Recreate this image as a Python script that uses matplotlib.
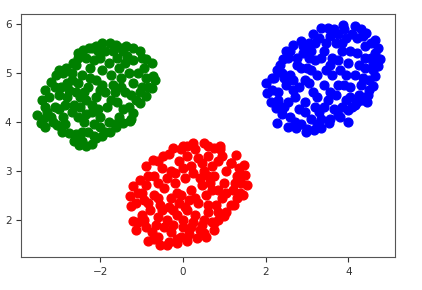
import matplotlib
matplotlib.use('Agg')
import matplotlib.pyplot as plt

# points, one list per cluster
green_x = [-3.53, -3.45, -3.33, -3.41, -3.33, -3.20, -3.08, -3.00, -2.84, -2.67,
           -2.55, -2.43, -2.27, -2.11, -1.95, -1.78, -1.62, -1.37, -1.21, -1.05,
           -0.89, -0.76, -0.72, -0.68, -0.76, -0.89, -1.05, -1.21, -1.29, -1.46,
           -1.62, -1.78, -1.95, -2.11, -2.35, -2.51, -2.63, -2.76, -2.92, -3.04,
           -3.10, -2.90, -2.80, -2.95, -2.70, -2.60, -2.50, -2.70, -2.40, -2.30,
           -2.20, -2.10, -2.30, -2.45, -2.25, -2.00, -1.80, -1.60, -1.40, -1.50,
           -1.70, -1.90, -1.85, -1.60, -1.40, -1.20, -1.10, -1.00, -1.30, -1.55,
           -1.80, -2.00, -2.60, -2.85, -3.20, -3.25, -2.90, -2.60, -2.10, -2.00,
           -1.70, -0.90, -1.15, -2.35, -3.00, -2.55, -2.05, -1.35, -0.95, -1.25,
           -2.15, -2.45, -3.35,
           -3.15, -3.00, -2.85, -2.75, -2.55, -2.40, -2.20, -2.05, -1.95, -1.75,
           -1.55, -1.30, -1.20, -1.45, -1.90, -2.15, -2.35, -2.70, -2.80, -3.10,
           -2.55, -2.35, -2.15, -1.90, -1.65, -1.45, -1.25, -1.05, -0.85, -1.65,
           -1.75, -2.00, -2.25, -2.50, -2.65, -2.95, -2.45, -2.20, -1.50, -1.95,
           -3.30, -3.40, -2.20, -1.50, -1.00]
green_y = [4.14, 3.97, 3.90, 4.45, 4.65, 4.82, 4.96, 5.06, 5.10, 5.20,
           5.40, 5.47, 5.50, 5.54, 5.61, 5.61, 5.57, 5.54, 5.50, 5.44,
           5.27, 5.20, 4.93, 4.86, 4.69, 4.52, 4.38, 4.18, 4.01, 3.97,
           3.90, 3.80, 3.70, 3.67, 3.50, 3.53, 3.60, 3.77, 3.80, 3.94,
           4.30, 4.10, 4.50, 4.70, 4.85, 4.60, 4.30, 4.20, 4.00, 3.80,
           4.20, 4.50, 4.70, 4.95, 5.10, 5.30, 5.20, 5.30, 5.20, 4.90,
           4.75, 4.60, 4.30, 4.40, 4.60, 4.80, 5.00, 4.70, 4.30, 4.10,
           4.00, 3.90, 3.75, 3.95, 4.10, 4.50, 5.00, 5.15, 4.85, 4.10,
           5.45, 4.90, 4.45, 4.45, 4.55, 5.30, 5.45, 5.35, 5.10, 4.05,
           3.70, 3.60, 4.30,
           4.00, 4.25, 4.35, 4.65, 4.80, 4.60, 4.35, 4.25, 4.75, 4.95,
           5.10, 5.00, 5.25, 5.45, 5.45, 5.25, 5.30, 5.00, 4.80, 4.70,
           4.10, 4.15, 3.95, 3.80, 3.95, 4.25, 4.55, 4.60, 4.70, 4.60,
           4.45, 4.65, 4.90, 4.50, 4.35, 3.90, 3.80, 3.55, 4.70, 5.05,
           4.20, 4.05, 5.50, 5.50, 5.30]

red_x = [-1.29, -1.25, -1.21, -1.13, -0.85, -0.56, -0.40, -0.15, 0.09, 0.33,
         0.50, 0.74, 0.98, 1.23, 1.39, 1.55, 1.51, 1.47, 1.27, 1.15,
         0.90, 0.74, 0.50, 0.25, 0.01, -0.24, -0.48, -0.72, -0.89, -1.05,
         -1.21, -0.90, -0.70, -0.50, -0.30, -0.10, 0.10, 0.35, 0.60, 0.85,
         1.05, 1.30, 1.20, 1.00, 0.75, 0.50, 0.25, 0.05, -0.20, -0.45,
         -0.70, -0.95, -1.00, -0.80, -0.55, -0.30, -0.05, 0.20, 0.45, 0.70,
         0.95, 1.15, 0.85, 0.60, 0.35, 0.10, -0.15, -0.40, -0.65, -0.90,
         -0.60, -0.30, 0.00, 0.25, 0.50, 0.70, 0.40, 0.15, -0.15, 0.30,
         -0.60, 0.65, -0.25, 0.90, 1.40, -1.10, 0.05, 0.55, -0.05,
         -1.15, -1.00, -0.85, -0.60, -0.40, -0.20, 0.00, 0.20, 0.45, 0.70,
         0.95, 1.15, 1.35, 1.45, 1.30, 1.05, 0.85, 0.55, 0.30, 0.15,
         -0.10, -0.35, -0.60, -0.85, -1.10, -0.95, -0.75, -0.45, -0.25, 0.00,
         0.30, 0.60, 0.80, 1.05, 0.75, 0.45, 0.20, -0.05, -0.35, -0.70,
         0.10, 0.60, -0.35, -0.60, 0.85, 1.25, -0.15, 0.40, 0.60, -0.50]
red_y = [2.48, 2.27, 1.97, 1.80, 1.56, 1.49, 1.49, 1.52, 1.56, 1.63,
         1.73, 1.93, 2.07, 2.31, 2.54, 2.71, 2.92, 3.12, 3.33, 3.16,
         3.50, 3.46, 3.56, 3.56, 3.50, 3.46, 3.29, 3.22, 3.09, 2.82,
         2.69, 2.70, 2.90, 3.05, 3.00, 3.20, 3.30, 3.25, 3.30, 3.20,
         3.00, 2.90, 2.60, 2.75, 2.90, 3.00, 2.95, 2.85, 2.75, 2.65,
         2.50, 2.40, 2.10, 2.20, 2.30, 2.45, 2.50, 2.60, 2.70, 2.60,
         2.45, 2.30, 2.15, 2.30, 2.35, 2.20, 2.10, 2.00, 1.90, 1.85,
         1.65, 1.75, 1.85, 1.95, 2.00, 1.95, 1.80, 1.70, 1.60, 3.45,
         2.05, 2.75, 2.20, 3.45, 2.75, 2.55, 2.25, 1.65, 3.45,
         2.35, 2.55, 2.90, 2.75, 2.85, 2.95, 3.05, 3.10, 3.15, 3.10,
         3.30, 3.15, 3.05, 2.50, 2.45, 2.55, 2.60, 2.50, 2.45, 2.40,
         2.35, 2.25, 2.45, 2.35, 1.95, 2.00, 1.75, 1.85, 1.90, 2.00,
         2.10, 2.15, 2.30, 2.15, 1.80, 1.90, 1.85, 1.65, 1.55, 1.60,
         3.50, 3.50, 3.35, 3.20, 2.00, 2.75, 2.55, 2.85, 2.90, 2.20]

blue_x = [2.00, 2.04, 2.12, 2.24, 2.28, 2.53, 2.73, 2.98, 3.18, 3.34,
          3.54, 3.74, 3.99, 4.15, 4.32, 4.48, 4.60, 4.64, 4.72, 4.76,
          4.72, 4.64, 4.44, 4.15, 3.87, 3.50, 3.34, 3.14, 2.85, 2.65,
          2.49, 2.41, 2.28, 2.16, 2.30, 2.50, 2.45, 2.60, 2.80, 2.70,
          2.60, 2.75, 2.55, 2.90, 3.05, 3.30, 3.55, 3.75, 3.95, 4.20,
          4.40, 4.55, 4.40, 4.50, 4.30, 4.15, 4.00, 4.20, 3.85, 3.60,
          3.40, 3.20, 3.00, 2.95, 3.15, 2.95, 3.10, 3.30, 3.50, 3.40,
          3.60, 3.80, 3.90, 3.70, 3.85, 4.05, 4.25, 3.55, 3.25, 2.85,
          3.45, 3.25, 2.80, 4.60, 4.00, 3.70, 2.40, 4.30, 3.10, 4.45,
          2.15, 2.30, 2.40, 2.55, 2.65, 2.45, 2.35, 2.60, 2.75, 2.85,
          2.90, 3.20, 3.45, 3.65, 3.90, 4.10, 4.35, 4.55, 4.65, 4.60,
          4.40, 4.25, 4.35, 4.50, 4.20, 4.05, 3.95, 3.75, 3.55, 3.35,
          3.10, 3.05, 3.25, 3.40, 3.65, 3.80, 3.95, 3.75, 3.55, 3.20,
          2.95, 2.70, 3.00, 3.35, 4.10, 2.65, 2.20, 3.85, 4.05, 3.05]
blue_y = [4.79, 4.59, 4.41, 4.28, 3.97, 3.90, 3.87, 3.80, 3.84, 3.87,
          3.97, 4.14, 4.24, 4.35, 4.45, 4.55, 4.72, 4.93, 5.13, 5.27,
          5.50, 5.67, 5.81, 5.95, 5.98, 5.91, 5.91, 5.78, 5.64, 5.57,
          5.44, 5.27, 5.06, 4.89, 4.60, 4.75, 4.30, 4.10, 4.25, 4.50,
          4.95, 5.15, 5.30, 5.40, 5.60, 5.70, 5.75, 5.80, 5.70, 5.70,
          5.55, 5.30, 5.10, 4.85, 4.75, 4.95, 5.20, 5.40, 5.45, 5.30,
          5.45, 5.25, 5.10, 4.85, 4.60, 4.40, 4.05, 4.20, 4.45, 4.75,
          4.95, 5.05, 4.75, 4.55, 4.30, 4.50, 4.55, 4.05, 3.95, 3.95,
          5.05, 4.95, 4.70, 5.05, 4.00, 5.60, 5.00, 5.90, 5.45, 4.40,
          4.65, 4.45, 4.15, 4.40, 4.65, 4.90, 5.15, 5.45, 5.30, 5.10,
          5.55, 5.60, 5.60, 5.90, 5.90, 5.80, 5.75, 5.60, 5.40, 5.20,
          5.30, 5.15, 4.90, 4.65, 4.40, 4.70, 4.95, 5.25, 5.15, 5.30,
          5.05, 4.80, 4.50, 4.30, 4.25, 4.10, 4.45, 4.75, 4.60, 4.30,
          4.20, 4.00, 3.85, 4.05, 4.30, 4.85, 4.90, 5.60, 5.45, 5.30]

fig = plt.figure(figsize=(4.22, 2.9), dpi=100)
ax = fig.add_axes([0.05, 0.114, 0.886, 0.838])

ax.scatter(green_x, green_y, c='g', s=40)
ax.scatter(red_x, red_y, c='r', s=40)
ax.scatter(blue_x, blue_y, c='b', s=40)

ax.set_xlim(-3.92, 5.13)
ax.set_ylim(1.24, 6.2)
ax.set_xticks([-2, 0, 2, 4])
ax.set_yticks([2, 3, 4, 5, 6])
ax.tick_params(labelsize=7.5, colors='#333333')
for sp in ax.spines.values():
    sp.set_color('#555555')

fig.savefig('out.png', dpi=100)
